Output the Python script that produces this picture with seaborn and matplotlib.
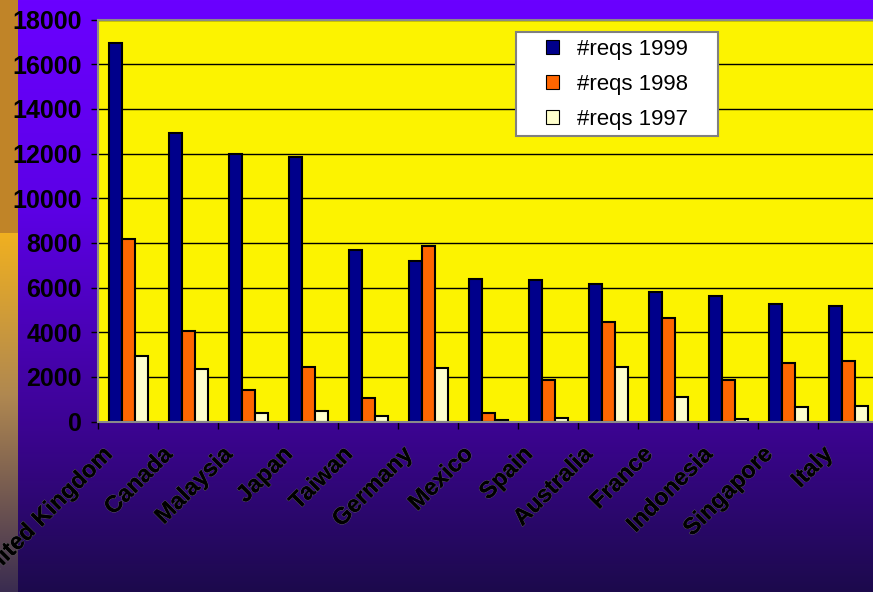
import numpy as np
import pandas as pd
import seaborn as sns
import matplotlib.pyplot as plt
import matplotlib.patheffects as pe
from matplotlib.patches import Rectangle
from matplotlib.transforms import ScaledTranslation

# data
countries = ["United Kingdom", "Canada", "Malaysia", "Japan", "Taiwan", "Germany",
             "Mexico", "Spain", "Australia", "France", "Indonesia", "Singapore", "Italy"]
reqs_1999 = [16950, 12930, 11960, 11850, 7670, 7180, 6375, 6330, 6150, 5790, 5610, 5240, 5165]
reqs_1998 = [8150, 4045, 1400, 2430, 1045, 7850, 370, 1850, 4450, 4630, 1850, 2630, 2700]
reqs_1997 = [2925, 2330, 390, 450, 240, 2390, 80, 165, 2450, 1100, 90, 660, 700]
series = ["#reqs 1999", "#reqs 1998", "#reqs 1997"]
colors = ["#00008b", "#ff6600", "#ffffcc"]
y_ticks = [0, 2000, 4000, 6000, 8000, 10000, 12000, 14000, 16000, 18000]

df = pd.DataFrame({"Country": countries,
                   series[0]: reqs_1999,
                   series[1]: reqs_1998,
                   series[2]: reqs_1997})
df = df.melt(id_vars="Country", var_name="Series", value_name="Requests")

W, H = 873, 592
fig = plt.figure(figsize=(W / 100, H / 100), dpi=100)


def ramp(n, stops, rgb):
    t = np.linspace(0, 1, n)
    rgb = np.array(rgb) / 255
    return np.stack([np.interp(t, stops, rgb[:, i]) for i in range(3)], axis=1)


# slide background: purple gradient plus a gold strip on the left
grad = ramp(H, [0.0, 0.35, 0.72, 1.0],
            [[0x6a, 0x00, 0xff], [0x5c, 0x00, 0xe6], [0x3c, 0x04, 0x92], [0x1c, 0x0a, 0x4c]])
img = np.repeat(grad[:, None, :], W, axis=1)
strip = ramp(H - 233, [0.0, 0.45, 1.0],
             [[0xf0, 0xb0, 0x20], [0xb0, 0x88, 0x50], [0x3a, 0x2c, 0x50]])
img[:233, :18, :] = np.array([0xc0, 0x84, 0x28]) / 255
img[233:, :18, :] = strip[:, None, :]
bg = fig.add_axes([0, 0, 1, 1], zorder=-1)
bg.imshow(img, aspect="auto", extent=(0, 1, 0, 1))
bg.axis("off")

ax = fig.add_axes([98.3 / W, 1 - 421.5 / H, 780 / W, 402 / H])
ax.set_facecolor("#fcf300")

sns.barplot(data=df, x="Country", y="Requests", hue="Series", hue_order=series,
            palette=colors, saturation=1, width=0.65, edgecolor="black",
            linewidth=1.5, ax=ax)

ax.set_xlim(-0.5, len(countries) - 0.5)
ax.set_ylim(0, 18000)
ax.set_yticks(y_ticks)
ax.set_yticklabels([str(v) for v in y_ticks], fontsize=18, fontweight="bold",
                   family="Liberation Sans")
ax.yaxis.grid(True, color="black", linewidth=1)
ax.set_axisbelow(True)
ax.set_xlabel("")
ax.set_ylabel("")
for s in ax.spines.values():
    s.set_color("#8a8a8a")
    s.set_linewidth(1.5)
ax.tick_params(axis="y", length=5, width=1, color="black", pad=7)

# Excel-style: tick marks between categories, labels at centres
ax.set_xticks(np.arange(len(countries) + 1) - 0.5, minor=True)
ax.tick_params(axis="x", which="minor", length=5, width=1, color="black")
ax.tick_params(axis="x", which="major", length=0, pad=15)
ax.set_xticks(range(len(countries)))
ax.set_xticklabels(countries, rotation=45, ha="right", va="top", fontsize=17,
                   fontweight="bold", family="Liberation Sans")
shift = ScaledTranslation(-11 / 100, 0, fig.dpi_scale_trans)
for lab in ax.get_xticklabels():
    lab.set_transform(lab.get_transform() + shift)
    lab.set_path_effects([pe.SimpleLineShadow(offset=(1, -1)),
                          pe.withStroke(linewidth=0.8, foreground="#5a5a5a"),
                          pe.Normal()])

# legend box
handles, labels = ax.get_legend_handles_labels()
ax.get_legend().remove()
box = Rectangle((516 / W, 1 - 136 / H), 202 / W, 104 / H, transform=fig.transFigure,
                facecolor="white", edgecolor="#808080", linewidth=1.5, zorder=5)
fig.add_artist(box)
leg = fig.legend(handles, labels, loc="upper left",
                 bbox_to_anchor=(546 / W, 1 - 39 / H), frameon=False,
                 borderpad=0, borderaxespad=0, handlelength=0.6, handleheight=0.6,
                 handletextpad=0.8, labelspacing=0.62,
                 prop={"family": "Liberation Sans", "size": 16})
leg.set_zorder(6)
for h in leg.legend_handles:
    h.set_linewidth(0.8)

plt.savefig("out.png", dpi=100)
